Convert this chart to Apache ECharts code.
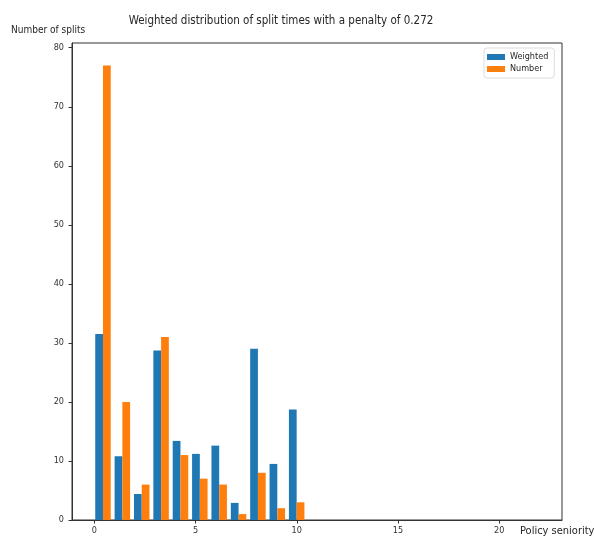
<!DOCTYPE html>
<html><head><meta charset="utf-8">
<script src="https://cdn.jsdelivr.net/npm/echarts@6/dist/echarts.min.js"></script>
<style>html,body{margin:0;padding:0;background:#fff}#c{width:594px;height:537px}</style>
</head><body><div id="c"></div>
<script>
// Histogram bin edges (23 bins over 0..22; only the first 11 hold data)
const binEdges = [0, 0.957, 1.913, 2.870, 3.826, 4.783, 5.739, 6.696, 7.652, 8.609, 9.565, 10.522];
const weighted = [31.5, 10.8, 4.4, 28.7, 13.4, 11.2, 12.6, 2.9, 29.0, 9.5, 18.7];
const number = [77, 20, 6, 31, 11, 7, 6, 1, 8, 2, 3];
const xTicks = [0, 5, 10, 15, 20];
const yTicks = [0, 10, 20, 30, 40, 50, 60, 70, 80];
const seriesNames = ['Weighted', 'Number'];
const colors = ['#1f77b4', '#ff7f0e'];

function makeData(vals) {
  return vals.map((v, i) => [binEdges[i], binEdges[i + 1], v]);
}
function renderFor(slot) {
  return function (params, api) {
    const l = api.value(0), r = api.value(1), v = api.value(2);
    const w = r - l;
    const x0 = l + w * (0.05 + 0.4 * slot);
    const x1 = x0 + w * 0.4;
    const p0 = api.coord([x0, v]);
    const p1 = api.coord([x1, 0]);
    return {
      type: 'rect',
      shape: { x: p0[0], y: p0[1], width: p1[0] - p0[0], height: p1[1] - p0[1] },
      style: { fill: colors[slot] }
    };
  };
}
const chart = echarts.init(document.getElementById('c'), null, { renderer: 'canvas' });
const font = '"Liberation Sans Narrow","DejaVu Sans Condensed","Liberation Sans",sans-serif';
chart.setOption({
  animation: false,
  backgroundColor: '#fff',
  title: {
    text: 'Weighted distribution of split times with a penalty of 0.272',
    left: 276, top: 10, textAlign: 'center',
    textStyle: { fontFamily: font, fontSize: 11.5, fontWeight: 'normal', color: '#262626' }
  },
  legend: {
    orient: 'vertical', left: 484, top: 48,
    padding: [4, 6, 4, 3], itemWidth: 18, itemHeight: 6, itemGap: 2,
    borderColor: '#dcdcdc', borderWidth: 1, borderRadius: 3, backgroundColor: '#fff',
    icon: 'rect',
    textStyle: { fontFamily: font, fontSize: 9, color: '#262626', lineHeight: 10 },
    data: seriesNames
  },
  grid: { left: 72, top: 43, right: 32, bottom: 17, show: true, borderColor: '#333', borderWidth: 1, containLabel: false, outerBoundsMode: 'none' },
  xAxis: {
    type: 'value', min: -1.1, max: 23.1,
    name: 'Policy seniority', nameLocation: 'end', nameGap: 0,
    nameTextStyle: { fontFamily: font, fontSize: 11, color: '#262626', align: 'left', verticalAlign: 'top', padding: [6, 0, 0, -42] },
    splitLine: { show: false },
    axisLine: { show: true, onZero: false, lineStyle: { color: '#333', width: 1 } },
    axisTick: { show: true, length: 3.5, customValues: xTicks, lineStyle: { color: '#333' } },
    axisLabel: { customValues: xTicks, fontFamily: font, fontSize: 9, color: '#333', margin: 6 }
  },
  yAxis: {
    type: 'value', min: 0, max: 80.8,
    name: 'Number of splits', nameLocation: 'end', nameGap: 0,
    nameTextStyle: { fontFamily: font, fontSize: 10, color: '#262626', align: 'left', verticalAlign: 'bottom', padding: [0, 0, 8, -61] },
    splitLine: { show: false },
    axisLine: { show: true, onZero: false, lineStyle: { color: '#333', width: 1 } },
    axisTick: { show: true, length: 3.5, customValues: yTicks, lineStyle: { color: '#333' } },
    axisLabel: { customValues: yTicks, fontFamily: font, fontSize: 9, color: '#333', margin: 8 }
  },
  series: [
    { name: seriesNames[0], type: 'custom', renderItem: renderFor(0), itemStyle: { color: colors[0] }, encode: { x: [0, 1], y: 2 }, data: makeData(weighted) },
    { name: seriesNames[1], type: 'custom', renderItem: renderFor(1), itemStyle: { color: colors[1] }, encode: { x: [0, 1], y: 2 }, data: makeData(number) }
  ]
});
</script></body></html>
